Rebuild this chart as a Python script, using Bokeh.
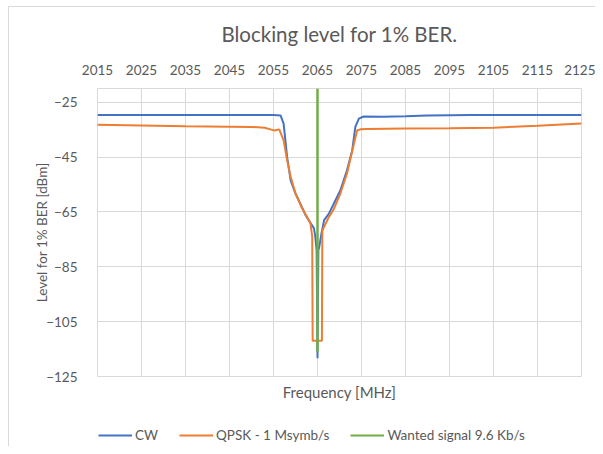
from bokeh.plotting import figure
from bokeh.layouts import column
from bokeh.models import LinearAxis, FixedTicker, Legend, LegendItem
from bokeh.embed import file_html
from bokeh.resources import INLINE

# ---- data ----
cw_freq = [2015, 2025, 2035, 2045, 2052, 2055, 2056.6, 2057.3, 2058.1, 2058.9, 2060, 2061.1,
           2062.3, 2063, 2063.6, 2064.2, 2064.5, 2064.8, 2065, 2065.2, 2065.4, 2065.9, 2066.5,
           2067.6, 2068.7, 2070.2, 2071.7, 2072.9, 2073.6, 2074.4, 2075.5, 2080, 2085, 2090,
           2100, 2110, 2125]
cw_level = [-29.7, -29.7, -29.7, -29.7, -29.7, -29.7, -29.8, -32.8, -45, -53.5, -58.3, -62,
            -66.2, -68, -69.5, -71, -74, -79, -118.3, -79, -77.7, -72.8, -68,
            -65.6, -62, -57.1, -49.8, -42.5, -34, -31, -30.2, -30.3, -30.1, -29.8,
            -29.7, -29.7, -29.7]

qpsk_freq = [2015, 2025, 2035, 2045, 2050, 2053, 2054.5, 2055.2, 2056.3, 2057.3, 2058.1, 2058.9,
             2060, 2061.5, 2062.5, 2063.4, 2063.8, 2063.9, 2066.0, 2066.1, 2066.5, 2067.6,
             2068.7, 2070.2, 2071.7, 2073.3, 2074, 2074.7, 2076.2, 2085, 2095, 2105, 2115, 2125]
qpsk_level = [-33.2, -33.5, -33.8, -33.9, -34.0, -34.3, -35.0, -35.3, -34.9, -38.9, -46.2, -52.2,
              -58.3, -63.7, -66.5, -69.2, -74, -112, -112, -72, -70.4, -66.8,
              -64, -58.3, -51, -40, -35.3, -34.9, -34.8, -34.6, -34.5, -34.3, -33.6, -32.8]

wanted_freq = [2065, 2065]
wanted_level = [-20, -116]

x_ticks = [2015, 2025, 2035, 2045, 2055, 2065, 2075, 2085, 2095, 2105, 2115, 2125]
y_ticks = [-125, -105, -85, -65, -45, -25]

series_names = ["CW", "QPSK - 1 Msymb/s", "Wanted signal 9.6 Kb/s"]
colors = ["#4472C4", "#ED7D31", "#70AD47"]

FONT = "Lato"
TXT = "#595959"
GRID = "#D9D9D9"

p = figure(width=595, height=406, x_range=(2015, 2125), y_range=(-125, -20),
           x_axis_location="above", output_backend="svg", toolbar_location=None,
           min_border_left=97, min_border_right=14, min_border_top=88, min_border_bottom=30,
           background_fill_color="white", border_fill_color=None)

p.title.text = "Blocking level for 1% BER."
p.title.align = "center"
p.title.text_font = FONT
p.title.text_font_size = "20.5px"
p.title.text_font_style = "normal"
p.title.text_color = TXT
p.title.standoff = 31

p.outline_line_color = GRID

# top axis
xa = p.xaxis[0]
xa.ticker = FixedTicker(ticks=x_ticks)
xa.axis_line_color = None
xa.major_tick_line_color = None
xa.minor_tick_line_color = None
xa.major_label_standoff = 8
xa.major_label_text_font = FONT
xa.major_label_text_font_size = "13.5px"
xa.major_label_text_color = TXT

# left axis
ya = p.yaxis[0]
ya.ticker = FixedTicker(ticks=y_ticks)
ya.axis_line_color = None
ya.major_tick_line_color = None
ya.minor_tick_line_color = None
ya.major_label_standoff = 14
ya.major_label_text_font = FONT
ya.major_label_text_font_size = "13.5px"
ya.major_label_text_color = TXT
ya.axis_label = "Level for 1% BER [dBm]"
ya.axis_label_text_font = FONT
ya.axis_label_text_font_size = "13.5px"
ya.axis_label_text_font_style = "normal"
ya.axis_label_text_color = TXT
ya.axis_label_standoff = -7

# bottom axis (label only)
xb = LinearAxis(ticker=FixedTicker(ticks=[]), axis_label="Frequency [MHz]")
xb.axis_line_color = None
xb.major_tick_line_color = None
xb.minor_tick_line_color = None
xb.axis_label_text_font = FONT
xb.axis_label_text_font_size = "15px"
xb.axis_label_text_font_style = "normal"
xb.axis_label_text_color = TXT
xb.axis_label_standoff = 6
p.add_layout(xb, "below")

p.xgrid.grid_line_color = GRID
p.ygrid.grid_line_color = GRID
p.xgrid.ticker = FixedTicker(ticks=x_ticks)
p.ygrid.ticker = FixedTicker(ticks=y_ticks)

p.line(cw_freq, cw_level, line_color=colors[0], line_width=2)
p.line(qpsk_freq, qpsk_level, line_color=colors[1], line_width=2)
p.line(wanted_freq, wanted_level, line_color=colors[2], line_width=2.5)

# legend strip below the chart (same series, outside this strip's ranges)
p2 = figure(width=595, height=40, x_range=(0, 1), y_range=(0, 1),
            x_axis_type=None, y_axis_type=None, output_backend="svg", toolbar_location=None,
            min_border_left=97, min_border_right=14, min_border_top=0, min_border_bottom=0,
            background_fill_color=None, border_fill_color=None)
p2.grid.visible = False
p2.outline_line_color = None
l1 = p2.line(cw_freq, cw_level, line_color=colors[0], line_width=2)
l2 = p2.line(qpsk_freq, qpsk_level, line_color=colors[1], line_width=2)
l3 = p2.line(wanted_freq, wanted_level, line_color=colors[2], line_width=2)

legend = Legend(items=[LegendItem(label=series_names[0], renderers=[l1]),
                       LegendItem(label=series_names[1], renderers=[l2]),
                       LegendItem(label=series_names[2], renderers=[l3])],
                orientation="horizontal", location=(1, 3))
legend.glyph_width = 34
legend.glyph_height = 16
legend.label_height = 16
legend.label_standoff = 3
legend.spacing = 21
legend.padding = 0
legend.margin = 0
legend.border_line_color = None
legend.background_fill_alpha = 0
legend.label_text_font = FONT
legend.label_text_font_size = "13.5px"
legend.label_text_color = TXT
p2.add_layout(legend, "center")

chart_border = ("linear-gradient(#D9D9D9, #D9D9D9) 8px 6px / 1px 100% no-repeat, "
                "linear-gradient(#D9D9D9, #D9D9D9) 8px 6px / 100% 1px no-repeat, white")
layout = column(p, p2, spacing=0, styles={"background": chart_border})

open("out.html", "w").write(file_html(layout, INLINE))
